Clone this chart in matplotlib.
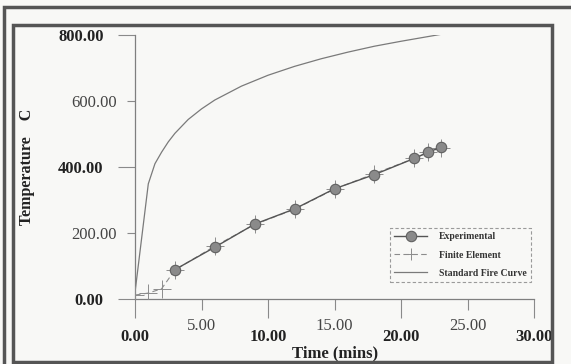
import matplotlib
matplotlib.use("Agg")
import matplotlib.pyplot as plt
from matplotlib.patches import Rectangle
from matplotlib.ticker import FixedLocator, FixedFormatter

# experimental readings (time in mins, temperature in C)
exp_time = [3, 6, 9, 12, 15, 18, 21, 22, 23]
exp_temp = [89, 157, 227, 273, 334, 377, 426, 444, 460]

# finite element prediction
fe_time = [0, 1, 2, 3, 6, 9, 12, 15, 18, 21, 22, 23]
fe_temp = [12, 18, 31, 88, 160, 226, 272, 333, 380, 426, 444, 458]

# standard fire curve
fire_time = [0, 1, 1.5, 2, 2.5, 3, 4, 5, 6, 8, 10, 12, 14, 16, 18, 20, 23]
fire_temp = [20, 349, 410, 445, 476, 502, 544, 576, 603, 645, 678, 705, 728, 748, 766, 781, 802]

x_major = [0, 10, 20, 30]
x_minor = [5, 15, 25]
y_major = [0, 400, 800]
y_minor = [200, 600]

W, H = 571, 364
bg = "#f8f8f6"
serif = ["Liberation Serif", "DejaVu Serif"]
plt.rcParams["font.family"] = serif

fig = plt.figure(figsize=(W / 100, H / 100), dpi=100, facecolor=bg)
ax = fig.add_axes([135 / W, 1 - 299 / H, (534 - 135) / W, (299 - 35) / H])
ax.set_facecolor("none")

ax.plot(fire_time, fire_temp, color="#7a7a7a", lw=0.9, label="Standard Fire Curve", zorder=2)
ax.plot(fe_time, fe_temp, color="#8c8c8c", lw=0.8, ls=(0, (5, 3)), marker="+",
        markersize=13, mew=0.7, label="Finite Element", zorder=3)
ax.plot(exp_time, exp_temp, color="#555555", lw=1.0, marker="o", markersize=7.5,
        mfc="#8a8a8a", mec="#606060", mew=0.8, label="Experimental", zorder=4)

ax.set_xlim(0, 30)
ax.set_ylim(0, 800)
for s in ["top", "right"]:
    ax.spines[s].set_visible(False)
for s in ["left", "bottom"]:
    ax.spines[s].set_color("#7f7f7f")
    ax.spines[s].set_linewidth(0.9)

ax.xaxis.set_major_locator(FixedLocator(x_major))
ax.xaxis.set_minor_locator(FixedLocator(x_minor))
ax.xaxis.set_major_formatter(FixedFormatter([f"{v:.2f}" for v in x_major]))
ax.xaxis.set_minor_formatter(FixedFormatter([f"{v:.2f}" for v in x_minor]))
ax.yaxis.set_major_locator(FixedLocator(y_major))
ax.yaxis.set_minor_locator(FixedLocator(y_minor))
ax.yaxis.set_major_formatter(FixedFormatter([f"{v:.2f}" for v in y_major]))
ax.yaxis.set_minor_formatter(FixedFormatter([f"{v:.2f}" for v in y_minor]))

ax.tick_params(axis="x", which="major", direction="out", length=13.5, width=0.8,
               color="#8a8a8a", pad=8, labelsize=12, labelcolor="#222222")
ax.tick_params(axis="x", which="minor", direction="out", length=8, width=0.8,
               color="#8a8a8a", pad=6, labelsize=12, labelcolor="#444444")
ax.tick_params(axis="y", which="major", direction="out", length=12.5, width=0.8,
               color="#8a8a8a", pad=10, labelsize=12, labelcolor="#222222")
ax.tick_params(axis="y", which="minor", direction="out", length=6, width=0.8,
               color="#8a8a8a", pad=7, labelsize=12, labelcolor="#444444")
for lbl in ax.get_xticklabels() + ax.get_yticklabels():
    lbl.set_fontweight("bold")
for lbl in ax.get_xticklabels(minor=True) + ax.get_yticklabels(minor=True):
    lbl.set_fontweight("normal")

fig.text(27 / W, 1 - 167 / H, "Temperature    C", rotation=90, ha="center", va="center",
         fontsize=11.5, fontweight="bold", color="#222222")
fig.text(335 / W, 1 - 353 / H, "Time (mins)", ha="center", va="center",
         fontsize=12, fontweight="bold", color="#222222")

handles, labels = ax.get_legend_handles_labels()
order = [2, 1, 0]
leg = fig.legend([handles[i] for i in order], [labels[i] for i in order],
                 loc="upper left", bbox_to_anchor=(390 / W, 1 - 228 / H),
                 bbox_transform=fig.transFigure, borderaxespad=0,
                 prop={"family": serif, "weight": "bold", "size": 7},
                 handlelength=3.4, handletextpad=1.2, labelspacing=0.95,
                 borderpad=0.45, fancybox=False, framealpha=1, facecolor=bg,
                 edgecolor="#9a9a9a")
leg.get_frame().set_linewidth(0.8)
leg.get_frame().set_linestyle((0, (3, 2)))
for t in leg.get_texts():
    t.set_color("#333333")
leg.legend_handles[1].set_markersize(8)

# scanned page frames
fig.patches.append(Rectangle((13 / W, 1 - 362 / H), (552 - 13) / W, (362 - 25) / H,
                             transform=fig.transFigure, fill=False, ec="#555555",
                             lw=2.5, zorder=10))
fig.patches.append(Rectangle((4 / W, 1 - 380 / H), (600 - 4) / W, (380 - 7) / H,
                             transform=fig.transFigure, fill=False, ec="#555555",
                             lw=2.5, zorder=10))

fig.savefig("out.png", dpi=100, facecolor=bg)
